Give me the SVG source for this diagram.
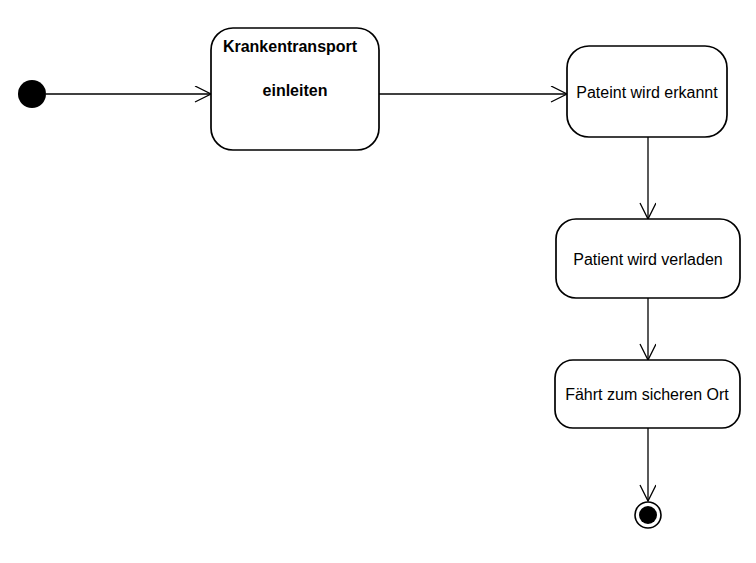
<svg xmlns="http://www.w3.org/2000/svg" width="756" height="563" viewBox="0 0 756 563">
<defs>
<marker id="arr" markerWidth="20" markerHeight="20" refX="17" refY="8" orient="auto" markerUnits="userSpaceOnUse">
<path d="M1,0 L17,8 L1,16" fill="none" stroke="#000" stroke-width="1.3"/>
</marker>
</defs>
<style>
.box{fill:#fff;stroke:#000;stroke-width:1.7}
.t{font-family:"Liberation Sans",Arial,sans-serif;font-size:16px;fill:#000;text-anchor:middle}
.b{font-weight:bold}
.c{stroke:#000;stroke-width:1.3;fill:none}
</style>
<rect width="756" height="563" fill="#fff"/>
<g id="connectors">
<line class="c" x1="46" y1="94" x2="211" y2="94" marker-end="url(#arr)"/>
<line class="c" x1="379" y1="94" x2="567" y2="94" marker-end="url(#arr)"/>
<line class="c" x1="648" y1="137" x2="648" y2="219" marker-end="url(#arr)"/>
<line class="c" x1="648" y1="298" x2="648" y2="360" marker-end="url(#arr)"/>
<line class="c" x1="648" y1="428" x2="648" y2="501" marker-end="url(#arr)"/>
</g>
<g id="start"><circle cx="32" cy="94" r="14" fill="#000"/></g>
<g id="n1">
<rect class="box" x="211" y="28" width="168" height="122" rx="22"/>
<text class="t b" x="290" y="52">Krankentransport</text>
<text class="t b" x="295" y="96">einleiten</text>
</g>
<g id="n2">
<rect class="box" x="567" y="46" width="160" height="91" rx="22"/>
<text class="t" x="647" y="98">Pateint wird erkannt</text>
</g>
<g id="n3">
<rect class="box" x="556" y="219" width="184" height="79" rx="20"/>
<text class="t" x="648" y="265">Patient wird verladen</text>
</g>
<g id="n4">
<rect class="box" x="555" y="360" width="185" height="68" rx="18"/>
<text class="t" x="647" y="400">Fährt zum sicheren Ort</text>
</g>
<g id="end">
<circle cx="648" cy="515" r="13" fill="#fff" stroke="#000" stroke-width="1.6"/>
<circle cx="648" cy="515" r="9" fill="#000"/>
</g>
</svg>
